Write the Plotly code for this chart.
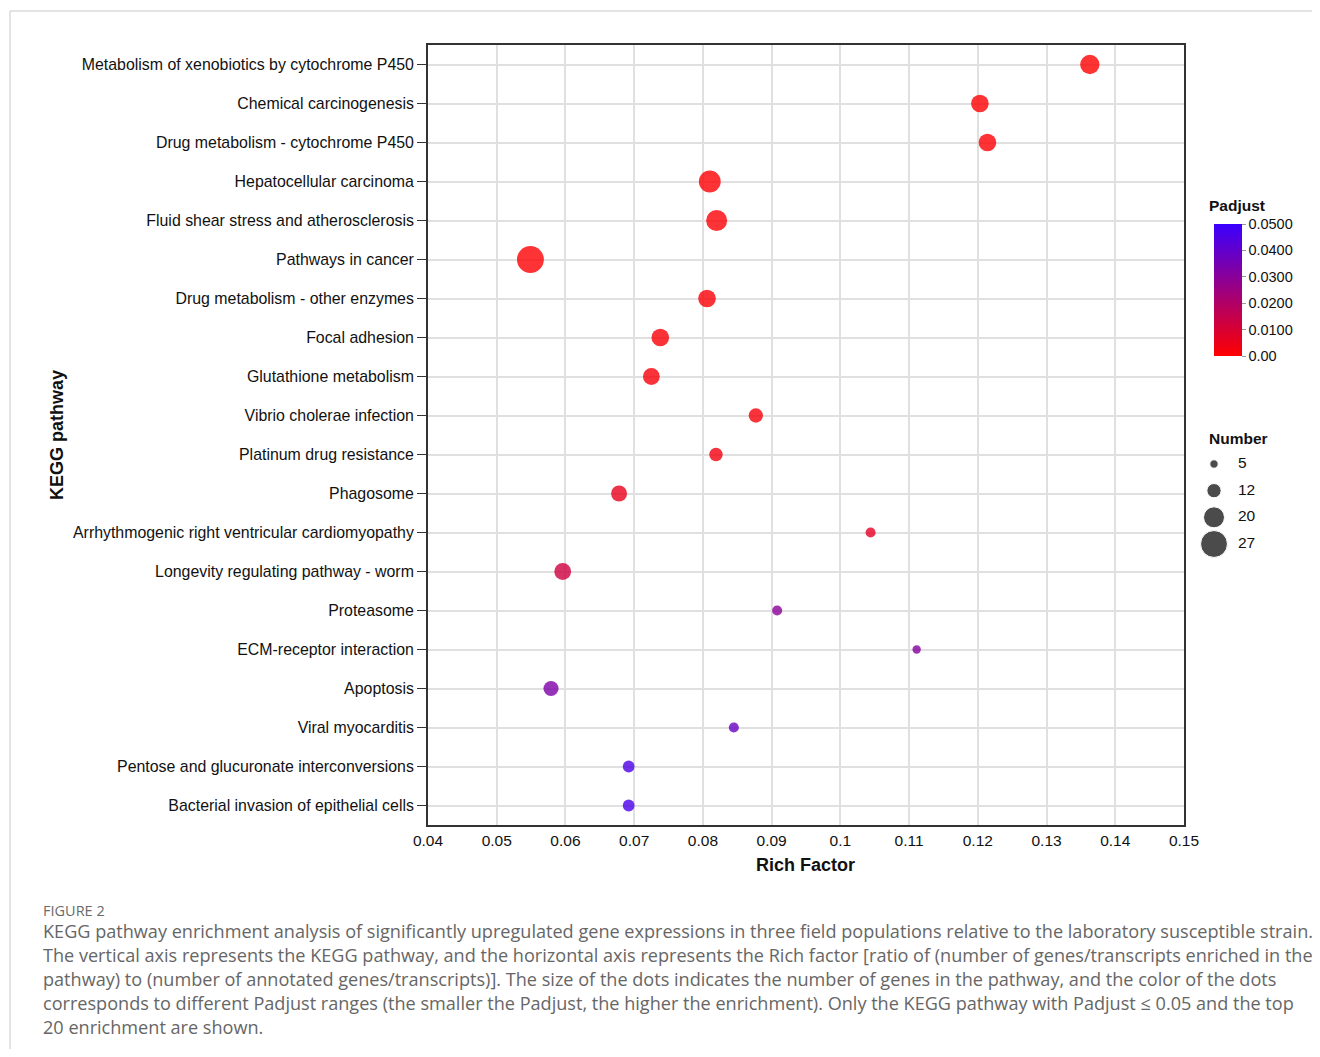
import plotly.graph_objects as go

# ---------------- data ----------------
pathways = [
    "Metabolism of xenobiotics by cytochrome P450",
    "Chemical carcinogenesis",
    "Drug metabolism - cytochrome P450",
    "Hepatocellular carcinoma",
    "Fluid shear stress and atherosclerosis",
    "Pathways in cancer",
    "Drug metabolism - other enzymes",
    "Focal adhesion",
    "Glutathione metabolism",
    "Vibrio cholerae infection",
    "Platinum drug resistance",
    "Phagosome",
    "Arrhythmogenic right ventricular cardiomyopathy",
    "Longevity regulating pathway - worm",
    "Proteasome",
    "ECM-receptor interaction",
    "Apoptosis",
    "Viral myocarditis",
    "Pentose and glucuronate interconversions",
    "Bacterial invasion of epithelial cells",
]
rich_factor = [0.1363, 0.1203, 0.1214, 0.0810, 0.0820, 0.0549, 0.0806, 0.0738,
               0.0725, 0.0877, 0.0819, 0.0678, 0.1044, 0.0596, 0.0908, 0.1111,
               0.0579, 0.0845, 0.0692, 0.0692]
number = [18, 16, 16, 21, 20, 27, 16, 16, 15, 12, 11, 14, 7, 15, 7, 5, 13, 7, 9, 9]
padjust = [0.0002, 0.0005, 0.0006, 0.0008, 0.0009, 0.0004, 0.0012, 0.0015,
           0.0018, 0.0022, 0.0030, 0.0055, 0.0070, 0.0125, 0.0300, 0.0310,
           0.0330, 0.0380, 0.0450, 0.0455]

x_ticks = [0.04, 0.05, 0.06, 0.07, 0.08, 0.09, 0.10, 0.11, 0.12, 0.13, 0.14, 0.15]
cbar_vals = [0.0, 0.01, 0.02, 0.03, 0.04, 0.05]
cbar_text = ["0.00", "0.0100", "0.0200", "0.0300", "0.0400", "0.0500"]
legend_numbers = [5, 12, 20, 27]

caption_head = "FIGURE 2"
caption_lines = [
    "KEGG pathway enrichment analysis of significantly upregulated gene expressions in three field populations relative to the laboratory susceptible strain.",
    "The vertical axis represents the KEGG pathway, and the horizontal axis represents the Rich factor [ratio of (number of genes/transcripts enriched in the",
    "pathway) to (number of annotated genes/transcripts)]. The size of the dots indicates the number of genes in the pathway, and the color of the dots",
    "corresponds to different Padjust ranges (the smaller the Padjust, the higher the enrichment). Only the KEGG pathway with Padjust \u2264 0.05 and the top",
    "20 enrichment are shown.",
]

# ---------------- layout geometry (reference pixel coords -> paper) ----------------
OFF = 8                      # page body margin
W, H = 1320 - 2 * OFF, 1057 - 2 * OFF
L = 428 - OFF
T = 45 - OFF
B = H - (825 - OFF)
PW = W - L                   # paper width (r margin = 0)
PH = H - T - B               # paper height
PLOT_W = 756


def px(xr):
    return (xr - OFF - L) / PW


def py(yr):
    return ((T + PH) - (yr - OFF)) / PH


def dot_size(n):
    return 4.2 + 0.84 * n


FONT = "Liberation Sans, Arial, sans-serif"
CAP_FONT = "Open Sans, sans-serif"
colorscale = [[0, "#ff0000"], [1, "#3a00ff"]]

fig = go.Figure()

fig.add_trace(go.Scatter(
    x=rich_factor, y=pathways, mode="markers",
    marker=dict(
        size=[dot_size(n) for n in number],
        color=padjust, colorscale=colorscale, cmin=0, cmax=0.05,
        opacity=0.8, line=dict(width=0),
        showscale=True,
        colorbar=dict(
            x=px(1214), xanchor="left", xpad=0, ypad=0,
            y=py(290), yanchor="middle",
            len=132, lenmode="pixels", thickness=28,
            outlinewidth=0,
            tickvals=cbar_vals, ticktext=cbar_text,
            ticks="outside", ticklen=4, tickcolor="#999",
            tickfont=dict(family=FONT, size=14.5, color="#111"),
        ),
    ),
    showlegend=False, hoverinfo="skip",
))

# size legend ("Number") drawn on its own small axes
fig.add_trace(go.Scatter(
    x=[16] * len(legend_numbers), y=list(range(len(legend_numbers))),
    mode="markers", marker=dict(size=[dot_size(n) for n in legend_numbers], color="black"),
    xaxis="x2", yaxis="y2", showlegend=False, hoverinfo="skip",
))
fig.add_trace(go.Scatter(
    x=[40] * len(legend_numbers), y=list(range(len(legend_numbers))),
    mode="text", text=[str(n) for n in legend_numbers], textposition="middle right",
    textfont=dict(family=FONT, size=15.5, color="#111"),
    xaxis="x2", yaxis="y2", showlegend=False, hoverinfo="skip",
))

axis_line = dict(showline=True, linecolor="#333", linewidth=1.8, mirror=True)

fig.update_layout(
    width=W, height=H,
    margin=dict(l=L, r=0, t=T, b=B, autoexpand=False),
    paper_bgcolor="white", plot_bgcolor="white",
    font=dict(family=FONT, size=15, color="#111"),
    xaxis=dict(
        domain=[0, PLOT_W / PW], range=[0.04, 0.15],
        tickvals=x_ticks, ticks="", showgrid=True, gridcolor="#e0e0e0", gridwidth=1.5,
        zeroline=False, tickfont=dict(size=15.5), **axis_line,
    ),
    yaxis=dict(
        categoryorder="array", categoryarray=pathways,
        range=[len(pathways) - 0.5, -0.5],
        ticks="outside", ticklen=9, tickcolor="#333", tickwidth=1.2,
        showgrid=True, gridcolor="#e0e0e0", gridwidth=1.5,
        tickfont=dict(size=15.9), **axis_line,
    ),
    xaxis2=dict(domain=[px(1198), px(1298)], range=[0, 100], visible=False, fixedrange=True),
    yaxis2=dict(domain=[py(560), py(450)], range=[3.6, -0.525], visible=False, fixedrange=True),
)


def ann(text, xr, yr, size, color="#111", family=FONT, xanchor="left", angle=0):
    return dict(text=text, x=px(xr), y=py(yr), xref="paper", yref="paper",
                xanchor=xanchor, yanchor="middle", showarrow=False, textangle=angle,
                font=dict(family=family, size=size, color=color))


annotations = [
    ann("<b>Rich Factor</b>", 805, 865, 18, xanchor="center"),
    ann("<b>KEGG pathway</b>", 57, 435, 18, xanchor="center", angle=-90),
    ann("<b>Padjust</b>", 1207, 205, 15.5),
    ann("<b>Number</b>", 1207, 438, 15.5),
    ann(caption_head, 41, 910, 14.5, color="#6a6a6a", family=CAP_FONT),
]
for i, line in enumerate(caption_lines):
    annotations.append(ann(line, 41, 931 + 24 * i, 18.1, color="#666", family=CAP_FONT))
fig.update_layout(annotations=annotations)

# outer figure frame
fig.add_shape(type="line", xref="paper", yref="paper",
              x0=px(10), x1=px(1330), y0=py(11), y1=py(11),
              line=dict(color="#c8c8c8", width=1))
fig.add_shape(type="line", xref="paper", yref="paper",
              x0=px(10), x1=px(10), y0=py(11), y1=py(1070),
              line=dict(color="#c8c8c8", width=1))

fig.write_html("out.html")
